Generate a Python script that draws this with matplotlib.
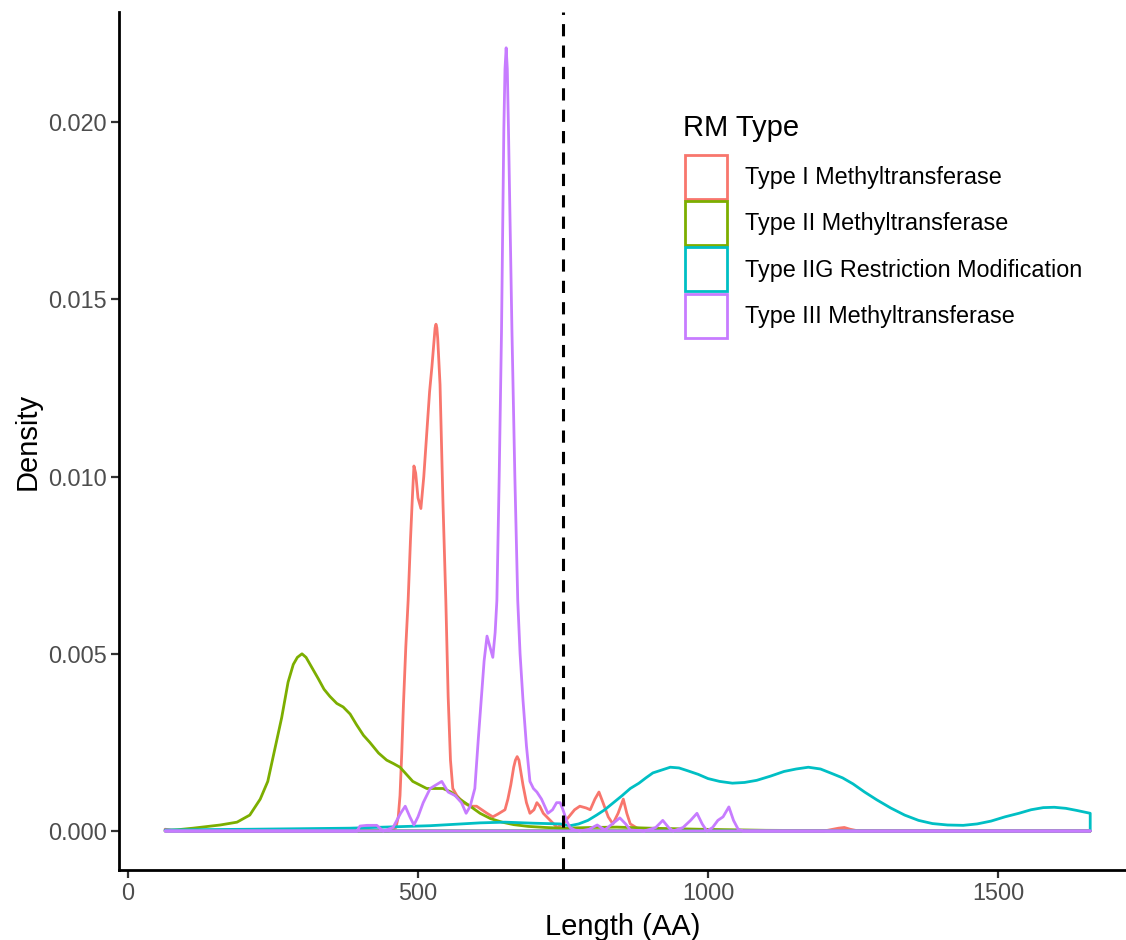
import matplotlib
matplotlib.use("Agg")
import matplotlib.pyplot as plt
from matplotlib.patches import Patch

plt.rcParams['font.family'] = ['Liberation Sans', 'DejaVu Sans']

# density curves (Length in AA, density)
type1_x = [64, 75, 100, 450, 462, 466, 469, 472, 475, 479, 483, 487, 490, 493, 496, 500, 505, 510,
           515, 520, 524, 528, 529.5, 531, 532.5, 534, 538, 543, 548, 552, 556, 560, 567, 578, 590, 601,
           610, 619, 629, 638, 650, 655, 660, 665, 668, 671, 674, 676, 681, 687, 693, 700, 705, 710, 716,
           728, 740, 750, 760, 770, 779, 790, 797, 805, 812, 819, 828, 836, 845, 854, 860, 866, 878, 900,
           1000, 1200, 1225, 1235, 1245, 1260, 1659]
type1_y = [0.00005, 0.00003, 0.0, 0.0, 0.0001, 0.0004, 0.0010, 0.0022, 0.0036, 0.0052, 0.0065, 0.0082,
           0.0093, 0.0103, 0.0101, 0.0094, 0.0091, 0.0100, 0.0112, 0.0124, 0.0131, 0.0139, 0.0142, 0.0143,
           0.0142, 0.0139, 0.0126, 0.0093, 0.0065, 0.0038, 0.0020, 0.0012, 0.0010, 0.0008, 0.0007, 0.0007,
           0.0006, 0.0005, 0.0004, 0.00048, 0.0006, 0.0009, 0.0013, 0.0018, 0.0020, 0.0021, 0.0020, 0.0018,
           0.0013, 0.0008, 0.0005, 0.0006, 0.0008, 0.0007, 0.0005, 0.0003, 0.0001, 0.0002, 0.0004, 0.0006,
           0.0007, 0.00065, 0.0006, 0.0009, 0.0011, 0.0008, 0.0004, 0.0002, 0.0005, 0.0009, 0.0005, 0.0002,
           0.00008, 0.00004, 0.00002, 0.0, 0.00008, 0.0001, 0.00005, 0.0, 0.0]

type2_x = [64, 112, 159, 188, 210, 228, 241, 253, 265, 276, 285, 292, 300, 307, 314, 321, 328, 338,
           348, 360, 371, 383, 394, 406, 417, 432, 446, 458, 469, 480, 491, 503, 515, 530, 543, 557, 572,
           590, 607, 625, 645, 665, 690, 720, 750, 800, 843, 900, 986, 1100, 1331, 1659]
type2_y = [0.0, 0.00008, 0.00017, 0.00025, 0.00045, 0.0009, 0.0014, 0.0023, 0.0032, 0.0042, 0.0047,
           0.0049, 0.0050, 0.0049, 0.0047, 0.0045, 0.0043, 0.0040, 0.0038, 0.0036, 0.0035, 0.0033, 0.0030,
           0.0027, 0.0025, 0.0022, 0.0020, 0.0019, 0.0018, 0.0016, 0.0014, 0.0013, 0.0012, 0.0012, 0.0012,
           0.0011, 0.0009, 0.0007, 0.0005, 0.00035, 0.00025, 0.00018, 0.00013, 0.0001, 0.00008, 0.0001,
           0.00011, 0.00008, 0.00005, 0.00002, 0.0, 0.0]

type2g_x = [64, 210, 383, 521, 607, 650, 700, 745, 762, 777, 793, 808, 822, 837, 852, 866, 881, 893,
            905, 920, 935, 950, 965, 983, 1000, 1020, 1042, 1063, 1084, 1108, 1131, 1152, 1173, 1194,
            1214, 1232, 1250, 1270, 1291, 1315, 1339, 1363, 1387, 1413, 1440, 1464, 1488, 1512, 1536,
            1557, 1578, 1597, 1617, 1636, 1659]
type2g_y = [0.00003, 0.00005, 0.00008, 0.00015, 0.00023, 0.00025, 0.00022, 0.0002, 0.00015, 0.0002,
            0.0003, 0.00045, 0.0006, 0.0008, 0.0010, 0.0012, 0.00135, 0.0015, 0.00164, 0.00172, 0.0018,
            0.00178, 0.0017, 0.0016, 0.00148, 0.0014, 0.00135, 0.00137, 0.00143, 0.00155, 0.00168,
            0.00175, 0.0018, 0.00175, 0.00162, 0.0015, 0.00133, 0.0011, 0.00088, 0.00065, 0.00045,
            0.0003, 0.00021, 0.00017, 0.00016, 0.0002, 0.00028, 0.0004, 0.0005, 0.0006, 0.00066,
            0.00067, 0.00064, 0.00058, 0.0005]

type3_x = [64, 395, 400, 412, 429, 440, 457, 470, 478, 486, 493, 500, 509, 521, 531, 541, 552, 564,
           575, 583, 590, 598, 604, 609, 614, 619, 624, 629, 633, 636, 640, 644, 648, 650, 652, 654, 656,
           662, 667, 672, 676, 681, 687, 693, 699, 705, 713, 724, 732, 739, 745, 750, 756, 762, 770, 779,
           795, 809, 822, 835, 848, 858, 866, 890, 910, 922, 932, 940, 957, 970, 981, 990, 998, 1008,
           1017, 1026, 1036, 1044, 1052, 1060, 1659]
type3_y = [0.0, 0.0, 0.00014, 0.00016, 0.00016, 0.0, 0.0001, 0.0005, 0.0007, 0.0004, 0.00017, 0.0004,
           0.0008, 0.0012, 0.0013, 0.0014, 0.0011, 0.0010, 0.0008, 0.0005, 0.0007, 0.0012, 0.0026,
           0.0037, 0.0048, 0.0055, 0.0052, 0.0049, 0.0056, 0.0065, 0.0100, 0.0141, 0.0198, 0.0215, 0.0221,
           0.0215, 0.0198, 0.0141, 0.0100, 0.0065, 0.0050, 0.0037, 0.0024, 0.0014, 0.0012, 0.0011,
           0.0009, 0.0005, 0.0006, 0.0008, 0.0008, 0.0006, 0.0003, 0.0001, 0.00003, 0.0, 0.00005,
           0.00017, 0.00003, 0.0002, 0.00037, 0.0002, 0.00003, 0.0, 0.0001, 0.0003, 0.0001, 0.0,
           0.0001, 0.0003, 0.0005, 0.0002, 0.0, 0.0001, 0.0003, 0.0004, 0.00068, 0.0003, 0.00005, 0.0, 0.0]

labels = ["Type I Methyltransferase", "Type II Methyltransferase",
          "Type IIG Restriction Modification", "Type III Methyltransferase"]
colors = ["#F8766D", "#7CAE00", "#00BFC4", "#C77CFF"]
cutoff = 750
xticks = [0, 500, 1000, 1500]
yticks = [0.000, 0.005, 0.010, 0.015, 0.020]

fig = plt.figure(figsize=(11.26, 9.4), dpi=100)
ax = fig.add_axes([119 / 1126, 1 - 870 / 940, (1126 - 119) / 1126, (870 - 12) / 940])

curves = [(type1_x, type1_y), (type2_x, type2_y), (type2g_x, type2g_y), (type3_x, type3_y)]
for (xs, ys), c in zip(curves, colors):
    px = [xs[0]] + xs + [xs[-1]]
    py = [0] + ys + [0]
    ax.fill(px, py, facecolor="none", edgecolor=c, linewidth=2.0, joinstyle="round")

ax.axvline(cutoff, color="black", linestyle=(0, (4, 3)), linewidth=2.2)

ax.set_xlim(-15.5, 1720.7)
ax.set_ylim(-0.0011, 0.02311)
ax.set_xticks(xticks)
ax.set_yticks(yticks)
ax.set_yticklabels([f"{v:.3f}" for v in yticks])
ax.tick_params(labelsize=16.8, labelcolor="#4D4D4D", color="#333333", length=5.5, width=1.6, pad=3)

for s in ["top", "right"]:
    ax.spines[s].set_visible(False)
for s in ["left", "bottom"]:
    ax.spines[s].set_linewidth(2.0)

ax.set_xlabel("Length (AA)", fontsize=21, labelpad=6)
ax.set_ylabel("Density", fontsize=21, labelpad=5)

# legend: title placed on its own, keys as outlined boxes
fig.text(683 / 1126, 1 - 128 / 940, "RM Type", fontsize=21, va="center", ha="left")
handles = [Patch(facecolor="none", edgecolor=c, linewidth=2.0) for c in colors]
leg = ax.legend(handles, labels, loc="upper left",
                bbox_to_anchor=(685 / 1126, 1 - 155 / 940), bbox_transform=fig.transFigure,
                frameon=False, fontsize=16.8, handlelength=1.8,
                handleheight=2.53, labelspacing=0.09, handletextpad=0.75, borderpad=0,
                borderaxespad=0)

fig.savefig("out.png", dpi=100)
